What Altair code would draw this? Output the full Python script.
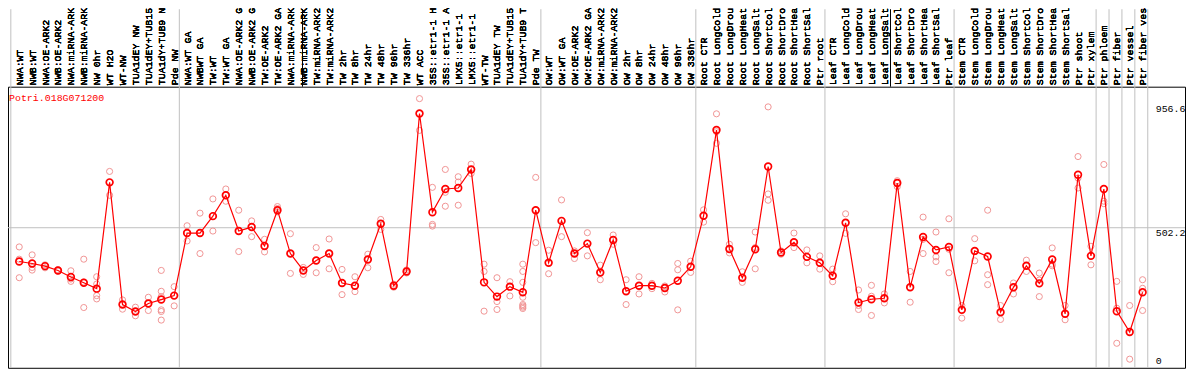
import json
import altair as alt
import pandas as pd

gene_id = "Potri.018G071200"

samples = [
    "NWA:WT", "NWB:WT", "NWA:OE-ARK2", "NWB:OE-ARK2", "NWA:miRNA-ARK2", "NWB:miRNA-ARK2",
    "NW 0hr", "WT H2O", "WT-NW", "TUA1dEY NW", "TUA1dEY+TUB15", "TUA1dY+TUB9 NW", "Pde NW",
    "NWA:WT GA", "NWBWT GA", "TW:WT", "TW:WT GA", "NWA:OE-ARK2 GA", "NWB:OE-ARK2 GA",
    "TW:OE-ARK2", "TW:OE-ARK2 GA", "NWA:miRNA-ARK2", "NWB:miRNA-ARK2", "TW:miRNA-ARK2",
    "TW:miRNA-ARK2", "TW 2hr", "TW 8hr", "TW 24hr", "TW 48hr", "TW 96hr", "TW 336hr",
    "WT ACC", "35S::etr1-1 H2O", "35S::etr1-1 ACC", "LMX5::etr1-1 H2O", "LMX5::etr1-1 ACC",
    "WT-TW", "TUA1dEY TW", "TUA1dEY+TUB15", "TUA1dY+TUB9 TW", "Pde TW",
    "OW:WT", "OW:WT GA", "OW:OE-ARK2", "OW:OE-ARK2 GA", "OW:miRNA-ARK2", "OW:miRNA-ARK2",
    "OW 2hr", "OW 8hr", "OW 24hr", "OW 48hr", "OW 96hr", "OW 336hr",
    "Root CTR", "Root LongCold", "Root LongDrought", "Root LongHeat", "Root LongSalt",
    "Root ShortCold", "Root ShortDrought", "Root ShortHeat", "Root ShortSalt", "Ptr root",
    "Leaf CTR", "Leaf LongCold", "Leaf LongDrought", "Leaf LongHeat", "Leaf LongSalt",
    "Leaf ShortCold", "Leaf ShortDrought", "Leaf ShortHeat", "Leaf ShortSalt", "Ptr leaf",
    "Stem CTR", "Stem LongCold", "Stem LongDrought", "Stem LongHeat", "Stem LongSalt",
    "Stem ShortCold", "Stem ShortDrought", "Stem ShortHeat", "Stem ShortSalt", "Ptr shoot",
    "Ptr xylem", "Ptr phloem", "Ptr fiber", "Ptr vessel", "Ptr fiber vessel",
]

means = [
    378.9, 371.7, 362.0, 346.3, 322.1, 301.6, 279.8, 667.8, 221.8, 196.4, 225.4, 239.9, 254.4,
    482.8, 482.8, 544.5, 620.6, 490.1, 504.6, 435.7, 566.2, 407.9, 346.3, 382.5, 407.9,
    300.4, 290.7, 386.2, 516.7, 290.7, 342.6, 919.1, 559.0, 643.6, 647.2, 714.9,
    302.8, 250.8, 287.1, 266.5, 566.2,
    374.1, 527.2, 407.9, 444.2, 339.0, 457.5, 270.2, 290.7, 290.7, 282.2, 308.8, 359.6,
    545.7, 858.7, 424.8, 319.7, 423.6, 725.8, 411.5, 449.0, 395.8, 374.1,
    326.9, 520.3, 229.0, 241.1, 244.8, 665.4, 284.6, 468.4, 421.2, 432.1,
    202.4, 417.6, 397.0, 194.0, 284.6, 363.2, 299.1, 386.2, 187.9, 695.6, 399.5,
    643.6, 197.6, 121.5, 266.5,
]

replicates = [
    [432.1, 387.4, 319.7], [403.1, 357.2, 347.5], [366.8, 362.0, 355.9], [348.7, 346.3, 343.9],
    [345.1, 314.9, 306.4], [387.4, 304.0, 210.9], [323.3, 296.7, 254.4, 242.3],
    [707.7, 667.8, 620.6], [238.7, 221.8, 204.9], [212.1, 196.4, 180.7], [248.4, 225.4, 200.0],
    [346.3, 270.2, 250.8, 202.4, 196.4, 165.0], [287.1, 254.4, 216.9],
    [509.4, 482.8, 453.8], [555.4, 482.8, 407.9], [607.3, 544.5, 490.1], [643.6, 620.6, 598.9],
    [566.2, 490.1, 415.2], [527.2, 504.6, 469.6], [459.9, 435.7, 414.0], [579.5, 572.3, 560.2],
    [480.4, 407.9, 335.4], [357.2, 346.3, 331.8], [429.7, 382.5, 337.8], [461.1, 407.9, 352.3],
    [349.9, 300.4, 258.0], [323.3, 290.7, 268.9], [405.5, 386.2, 356.0], [532.4, 516.7, 496.1],
    [296.0, 290.7, 285.0], [348.0, 342.6, 337.0], [973.5, 919.1, 857.5], [649.6, 514.3, 508.2],
    [714.9, 631.5, 580.7], [688.3, 669.0, 584.4], [734.2, 714.9, 700.4], [369.2, 342.6, 197.6],
    [319.7, 232.7, 203.7], [305.2, 287.1, 253.2],
    [369.2, 342.6, 302.8, 248.4, 221.8, 217.0, 212.1, 207.3], [685.9, 566.2, 447.8],
    [420.0, 374.1, 334.2], [603.7, 527.2, 469.6], [417.6, 407.9, 389.8], [484.1, 444.2, 399.5],
    [365.6, 339.0, 312.4], [475.6, 457.5, 441.8], [312.4, 270.2, 221.8], [323.3, 290.7, 260.5],
    [299.1, 290.7, 279.8], [289.5, 282.2, 267.7], [371.7, 348.7, 202.4], [380.1, 359.6, 339.0],
    [567.5, 545.7, 522.7], [918.0, 852.7, 810.4], [441.8, 424.8, 410.3], [341.4, 319.7, 302.8],
    [486.5, 429.7, 352.3], [943.3, 625.5, 602.5], [417.6, 411.5, 405.5], [482.8, 449.0, 429.7],
    [421.2, 395.8, 374.1], [399.5, 374.1, 351.1],
    [351.1, 326.9, 305.2], [553.0, 520.3, 481.6], [275.0, 218.2, 203.7], [291.9, 252.0, 181.9],
    [260.5, 244.8, 227.8], [673.8, 665.4, 652.1], [342.6, 284.6, 230.3], [540.9, 459.9, 407.9],
    [486.5, 395.8, 378.9], [534.8, 423.6, 337.8],
    [218.2, 202.4, 172.2], [462.3, 417.6, 381.4], [566.2, 330.6, 294.3], [218.2, 194.0, 167.4],
    [300.4, 284.6, 260.5], [383.8, 363.2, 342.6], [336.6, 311.2, 250.8], [428.5, 369.2, 363.2],
    [218.2, 187.9, 166.2], [762.0, 683.5, 647.2], [434.5, 399.5, 366.8],
    [733.0, 599.0, 590.0], [306.4, 208.5, 80.4], [218.2, 121.5, 22.4], [312.4, 281.0, 200.0],
]

group_sizes = [13, 28, 12, 10, 10, 11, 1, 1, 1, 1]
y_ticks = [0, 502.2, 956.6]

n = len(samples)
mean_df = pd.DataFrame({"idx": list(range(n)), "sample": samples, "mean": means})
rep_df = pd.DataFrame(
    [{"idx": i, "sample": samples[i], "value": v} for i, reps in enumerate(replicates) for v in reps]
)

bounds = [-0.65]
acc = 0
for g in group_sizes:
    acc += g
    bounds.append(acc - 1 + 0.4)
sep_df = pd.DataFrame({"pos": bounds})

PLOT_W, PLOT_H, LABEL_H = 1185, 283, 78
MONO = "Liberation Mono"

x_scale = alt.Scale(domain=[-0.869, 90.285], nice=False, zero=False)
y_scale = alt.Scale(domain=[-9.06, 1017.0], nice=False, zero=False)

x_axis = alt.Axis(
    orient="top", values=list(range(n)), labelExpr=json.dumps(samples) + "[datum.value]",
    labelAngle=270, labelAlign="left", labelBaseline="middle", labelPadding=2,
    labelFont=MONO, labelFontSize=10, labelColor="black", labelOverlap=False,
    labelBound=False, labelFlush=False, labelLimit=300, ticks=False, domain=False,
    grid=False, title=None,
)
y_axis = alt.Axis(
    orient="right", values=y_ticks, labelExpr="toString(datum.value)", offset=-30,
    labelPadding=0, ticks=False, domain=False, grid=False, title=None, labelAlign="left",
    labelBaseline={"condition": {"test": "datum.value === 0", "value": "bottom"}, "value": "top"},
    labelFont=MONO, labelFontSize=10, labelColor="black", labelFlush=False, labelOverlap=False,
)

X = alt.X("idx:Q", scale=x_scale, axis=x_axis)

seps = alt.Chart(sep_df).mark_rule(color="#c0c0c0", strokeWidth=1).encode(
    x=alt.X("pos:Q", scale=x_scale, axis=x_axis),
    y=alt.value(-LABEL_H), y2=alt.value(PLOT_H),
)
grid = alt.Chart(pd.DataFrame({"v": [502.2]})).mark_rule(color="#c0c0c0", strokeWidth=1).encode(
    y=alt.Y("v:Q", scale=y_scale, axis=y_axis),
)
borders = alt.Chart(pd.DataFrame({"side": ["l", "r"]})).mark_rule(color="black", strokeWidth=1).encode(
    x=alt.X("side:N", scale=alt.Scale(domain=["l", "r"], range=[0.5, PLOT_W - 0.5]), axis=None),
    y=alt.value(-LABEL_H), y2=alt.value(0),
)
reps = alt.Chart(rep_df).mark_point(
    shape="circle", filled=False, size=38, strokeWidth=1, color="#f09494", opacity=1
).encode(x=X, y=alt.Y("value:Q", scale=y_scale, axis=y_axis))
line = alt.Chart(mean_df).mark_line(color="#ff0000", strokeWidth=1.2).encode(
    x=X, y=alt.Y("mean:Q", scale=y_scale, axis=y_axis), order="idx:Q"
)
pts = alt.Chart(mean_df).mark_point(
    shape="circle", filled=False, size=46, strokeWidth=1.7, color="#ff0000", opacity=1
).encode(x=X, y=alt.Y("mean:Q", scale=y_scale, axis=y_axis))
title = alt.Chart(pd.DataFrame({"t": [gene_id]})).mark_text(
    align="left", baseline="middle", color="#ff0000", font=MONO, fontSize=10
).encode(x=alt.value(1), y=alt.value(11), text="t:N")

chart = alt.layer(seps, grid, borders, reps, line, pts, title).resolve_scale(x="shared").properties(
    width=PLOT_W, height=PLOT_H,
    padding={"left": 0, "top": LABEL_H, "right": 1, "bottom": 1},
    autosize=alt.AutoSizeParams(type="none"),
    background="white",
).configure_view(stroke="black", strokeWidth=1)

chart.save("out.html", embed_options={"renderer": "svg", "actions": False})
